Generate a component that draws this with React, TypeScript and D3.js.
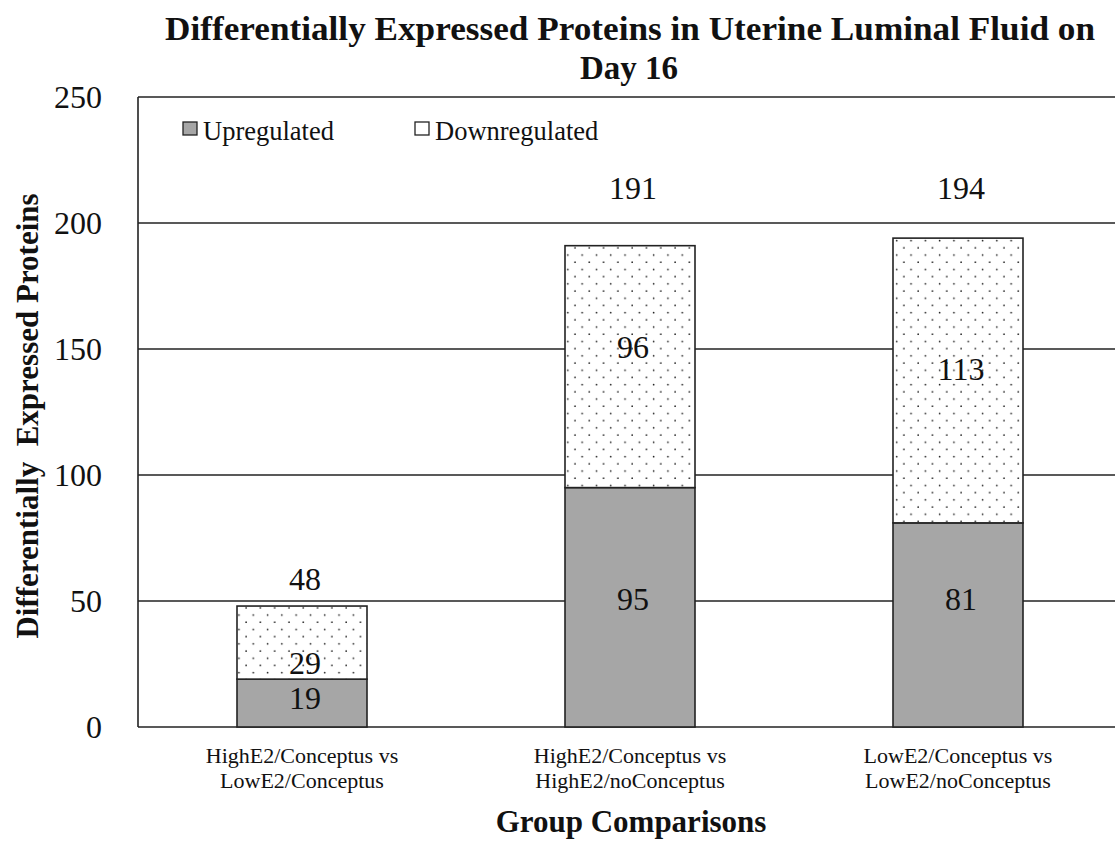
import React, { useEffect, useRef } from "react";
import * as d3 from "d3";

const groups = [
  ["HighE2/Conceptus vs", "LowE2/Conceptus"],
  ["HighE2/Conceptus vs", "HighE2/noConceptus"],
  ["LowE2/Conceptus vs", "LowE2/noConceptus"],
];
const upregulated = [19, 95, 81];
const downregulated = [29, 96, 113];
const totals = [48, 191, 194];
// where the labels sit, in axis units (as placed in the original)
const upLabelAt = [11.5, 51, 51];
const downLabelAt = [25.5, 151, 142];
const totalLabelAt = [59, 214, 214];
const yTicks = [0, 50, 100, 150, 200, 250];

const App: React.FC = () => {
  const ref = useRef<SVGSVGElement>(null);

  useEffect(() => {
    const svg = d3.select(ref.current);
    svg.selectAll("*").remove();
    const font = "'Liberation Serif', 'Times New Roman', serif";

    const left = 138, top = 97, bottom = 727, right = 1122;
    const x = d3.scaleBand<number>().domain([0, 1, 2]).range([left, right]).paddingInner(0.6).paddingOuter(0.3);
    const y = d3.scaleLinear().domain([0, 250]).range([bottom, top]);

    const defs = svg.append("defs");
    const pat = defs.append("pattern")
      .attr("id", "dots").attr("patternUnits", "userSpaceOnUse")
      .attr("width", 14.3).attr("height", 14.4);
    pat.append("rect").attr("width", 14.3).attr("height", 14.4).attr("fill", "#fff");
    pat.append("circle").attr("cx", 3).attr("cy", 3).attr("r", 0.85).attr("fill", "#222");
    pat.append("circle").attr("cx", 10.15).attr("cy", 10.2).attr("r", 0.85).attr("fill", "#222");

    // gridlines
    svg.append("g").selectAll("line").data(yTicks).enter().append("line")
      .attr("x1", left).attr("x2", right).attr("y1", d => y(d)).attr("y2", d => y(d))
      .attr("stroke", "#222").attr("stroke-width", 1.6);
    // left axis line
    svg.append("line").attr("x1", left).attr("x2", left).attr("y1", top).attr("y2", bottom)
      .attr("stroke", "#222").attr("stroke-width", 1.6);

    // tick labels
    svg.append("g").selectAll("text").data(yTicks).enter().append("text")
      .attr("x", 102).attr("y", d => y(d)).attr("dy", "0.35em")
      .attr("text-anchor", "end").attr("font-family", font).attr("font-size", 32)
      .attr("fill", "#111").text(d => d);

    const bw = 130;
    const bars = svg.append("g");
    const cx = (i: number) => (x(i) as number) + x.bandwidth() / 2;
    bars.selectAll("rect.up").data(upregulated).enter().append("rect")
      .attr("class", "up")
      .attr("x", (d, i) => cx(i) - bw / 2).attr("width", bw)
      .attr("y", d => y(d)).attr("height", d => y(0) - y(d))
      .attr("fill", "#a6a6a6").attr("stroke", "#222").attr("stroke-width", 1.6);
    bars.selectAll("rect.down").data(downregulated).enter().append("rect")
      .attr("class", "down")
      .attr("x", (d, i) => cx(i) - bw / 2).attr("width", bw)
      .attr("y", (d, i) => y(upregulated[i] + d)).attr("height", (d, i) => y(upregulated[i]) - y(upregulated[i] + d))
      .attr("fill", "url(#dots)").attr("stroke", "#222").attr("stroke-width", 1.6);

    const lab = (vals: number[], at: number[]) =>
      svg.append("g").selectAll("text").data(vals).enter().append("text")
        .attr("x", (d, i) => cx(i) + 3).attr("y", (d, i) => y(at[i])).attr("dy", "0.35em")
        .attr("text-anchor", "middle").attr("font-family", font).attr("font-size", 32)
        .attr("fill", "#111").text(d => d);
    lab(upregulated, upLabelAt);
    lab(downregulated, downLabelAt);
    lab(totals, totalLabelAt);

    // category labels
    const cat = svg.append("g").selectAll("text").data(groups).enter().append("text")
      .attr("x", (d, i) => cx(i)).attr("y", 763)
      .attr("text-anchor", "middle").attr("font-family", font).attr("font-size", 22).attr("fill", "#111");
    cat.each(function (d) {
      const t = d3.select(this);
      d.forEach((line, j) => {
        t.append("tspan").attr("x", t.attr("x")).attr("dy", j === 0 ? 0 : 25).text(line);
      });
    });

    // legend
    const leg = [
      { label: "Upregulated", fill: "#a6a6a6", x: 183 },
      { label: "Downregulated", fill: "#fff", x: 415 },
    ];
    const lg = svg.append("g").selectAll("g").data(leg).enter().append("g");
    lg.append("rect").attr("x", d => d.x).attr("y", 122).attr("width", 14).attr("height", 13)
      .attr("fill", d => d.fill).attr("stroke", "#222").attr("stroke-width", 1.3);
    lg.append("text").attr("x", d => d.x + 20).attr("y", 140)
      .attr("font-family", font).attr("font-size", 26.5).attr("fill", "#111").text(d => d.label);

    // titles
    svg.append("text").attr("x", 630).attr("y", 40).attr("text-anchor", "middle")
      .attr("font-family", font).attr("font-weight", "bold").attr("font-size", 33).attr("fill", "#111")
      .attr("textLength", 930).attr("lengthAdjust", "spacingAndGlyphs")
      .text("Differentially Expressed Proteins in Uterine Luminal Fluid on");
    svg.append("text").attr("x", 629).attr("y", 79).attr("text-anchor", "middle")
      .attr("font-family", font).attr("font-weight", "bold").attr("font-size", 33).attr("fill", "#111")
      .text("Day 16");

    svg.append("text").attr("x", 631).attr("y", 832).attr("text-anchor", "middle")
      .attr("font-family", font).attr("font-weight", "bold").attr("font-size", 31).attr("fill", "#111")
      .text("Group Comparisons");

    svg.append("text").attr("transform", "translate(38,416) rotate(-90)").attr("text-anchor", "middle")
      .attr("font-family", font).attr("font-weight", "bold").attr("font-size", 31).attr("fill", "#111")
      .style("white-space", "pre")
      .text("Differentially  Expressed Proteins");
  }, []);

  return (
    <svg ref={ref} width={1115} height={841}
      style={{ position: "absolute", left: 0, top: 0, background: "#fff" }} />
  );
};

export default App;
